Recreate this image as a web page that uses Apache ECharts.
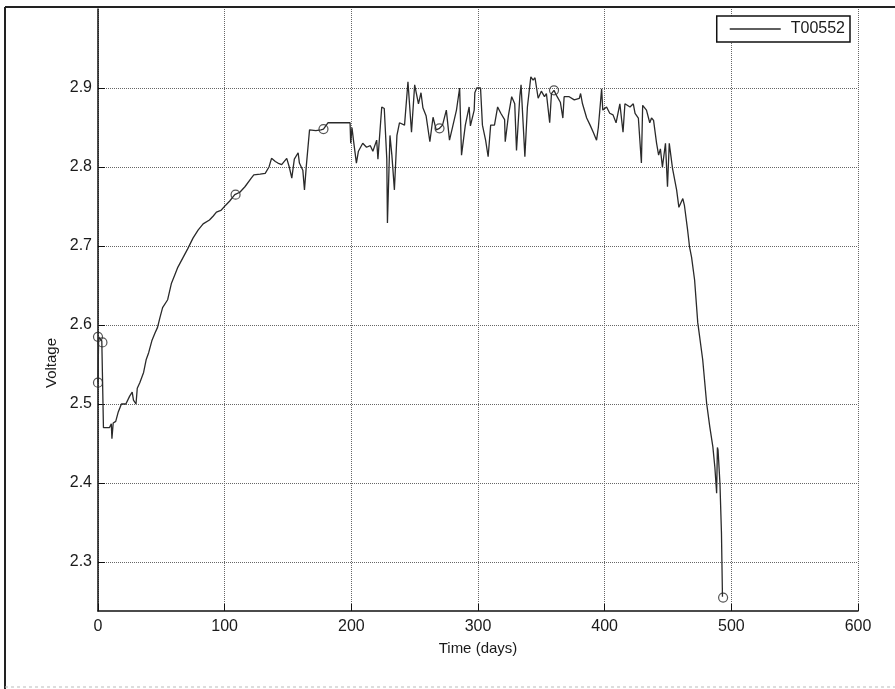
<!DOCTYPE html>
<html>
<head>
<meta charset="utf-8">
<script src="https://cdn.jsdelivr.net/npm/echarts@6/dist/echarts.min.js"></script>
<style>
  html, body { margin: 0; padding: 0; background: #fff; }
  #chart { width: 895px; height: 689px; }
</style>
</head>
<body>
<div id="chart"></div>
<script>
// T00552 voltage trace: [day, volt]
const seriesName = 'T00552';
const voltage = [
  [0, 2.527], [0.5, 2.585], [3, 2.58], [4, 2.578], [4.3, 2.47], [9, 2.47], [10.5, 2.475],
  [11, 2.456], [12, 2.476], [14, 2.478], [16, 2.49], [18.5, 2.5], [22, 2.5], [25, 2.51],
  [27, 2.515], [28, 2.505], [30, 2.5], [31, 2.52], [33, 2.527], [36, 2.54], [38, 2.556],
  [40, 2.565], [42.5, 2.58], [45, 2.59], [47, 2.597], [49, 2.61], [51, 2.622], [55, 2.632],
  [58, 2.653], [61, 2.665], [63, 2.673], [67, 2.685], [71, 2.697], [75, 2.71], [79, 2.72],
  [83, 2.728], [88, 2.733], [91, 2.738], [93.5, 2.743], [97, 2.745], [101, 2.752], [104, 2.757],
  [108, 2.765], [112, 2.768], [116, 2.775], [121, 2.786], [123, 2.79], [128, 2.791], [132, 2.792],
  [135, 2.8], [137, 2.811], [140, 2.807], [142, 2.805], [145, 2.803], [149, 2.811], [151, 2.8],
  [153, 2.786], [155, 2.81], [158, 2.818], [159, 2.805], [161.7, 2.796], [163, 2.771],
  [164.5, 2.802], [166, 2.8], [167, 2.847], [172, 2.846], [176, 2.847], [178, 2.848],
  [181.5, 2.856], [190, 2.856], [199, 2.856], [199.5, 2.83], [200.5, 2.85], [202, 2.83],
  [204, 2.805], [205.6, 2.82], [209, 2.83], [212, 2.825], [215, 2.827], [217, 2.82], [220, 2.834],
  [221, 2.81], [224, 2.876], [226, 2.874], [228, 2.81], [228.5, 2.729], [230.5, 2.84], [232, 2.815],
  [234, 2.771], [236, 2.84], [238, 2.856], [242, 2.853], [244.7, 2.908], [247.5, 2.844],
  [250, 2.904], [253, 2.88], [255, 2.894], [256.5, 2.875], [259, 2.865], [262, 2.832],
  [264.5, 2.863], [267, 2.847], [269.6, 2.849], [272, 2.853], [275, 2.872], [277.5, 2.834],
  [280, 2.851], [283, 2.872], [285.5, 2.9], [287, 2.815], [290, 2.853], [293, 2.876], [294, 2.852],
  [297, 2.872], [297.5, 2.894], [299, 2.9], [302, 2.9], [303.5, 2.853], [306, 2.834], [308, 2.813],
  [310, 2.853], [313, 2.853], [315.5, 2.876], [318, 2.868], [321, 2.86], [321.5, 2.832],
  [324, 2.865], [326.6, 2.889], [329, 2.88], [330.4, 2.821], [333, 2.889], [334, 2.904],
  [336, 2.844], [337, 2.813], [339, 2.876], [341.7, 2.914], [343.5, 2.91], [345, 2.913],
  [347.5, 2.887], [350, 2.896], [352.5, 2.889], [354, 2.893], [356.6, 2.856], [358, 2.893],
  [360, 2.897], [362.5, 2.889], [365, 2.882], [367, 2.862], [368, 2.889], [372, 2.889],
  [376, 2.885], [380, 2.887], [381, 2.893], [382.5, 2.88], [385.8, 2.862], [388.5, 2.853],
  [391, 2.844], [393.6, 2.834], [395, 2.85], [397.6, 2.899], [398.5, 2.872], [401.5, 2.876],
  [404, 2.868], [406.6, 2.866], [409, 2.856], [412, 2.88], [414.5, 2.844], [416, 2.88],
  [420, 2.876], [422.6, 2.88], [424, 2.868], [426.6, 2.862], [429, 2.805], [430, 2.878],
  [433, 2.872], [435.6, 2.856], [437, 2.862], [438.6, 2.859], [441, 2.83], [442.6, 2.815],
  [444, 2.823], [445.6, 2.8], [448, 2.83], [449.6, 2.775], [451, 2.83], [453.6, 2.798],
  [456.8, 2.771], [458.6, 2.749], [461.7, 2.76], [463, 2.751], [465.5, 2.72], [467, 2.699],
  [468.6, 2.686], [471, 2.657], [473.5, 2.603], [477.4, 2.556], [480.5, 2.501], [483, 2.471],
  [485.4, 2.446], [487, 2.42], [488.4, 2.387], [489, 2.445], [489.5, 2.442], [491, 2.4],
  [492.2, 2.337], [493, 2.256]
];
// open circle markers
const markers = [
  [0, 2.585], [0, 2.527], [3.5, 2.578], [108.6, 2.765], [178, 2.848],
  [269.6, 2.849], [360, 2.897], [493.5, 2.255]
];
const yTicks = [2.3, 2.4, 2.5, 2.6, 2.7, 2.8, 2.9];

const font = "'Liberation Sans', Arial, sans-serif";
const ink = '#1a1a1a';

const chart = echarts.init(document.getElementById('chart'), null, { renderer: 'canvas' });
chart.setOption({
  backgroundColor: '#fff',
  animation: false,
  grid: { left: 98, right: 37, top: 9, bottom: 78, containLabel: false },
  legend: {
    data: [seriesName],
    right: 45,
    top: 16,
    padding: [5, 5, 5, 13],
    backgroundColor: '#fff',
    borderColor: '#111',
    borderWidth: 1.5,
    borderRadius: 0,
    icon: 'rect',
    itemWidth: 51,
    itemHeight: 1.5,
    textStyle: { color: ink, fontSize: 16, fontFamily: font, padding: [0, 0, 0, 5] }
  },
  xAxis: {
    type: 'value',
    min: 0,
    max: 600,
    interval: 100,
    name: 'Time (days)',
    nameLocation: 'middle',
    nameGap: 30,
    nameTextStyle: { color: ink, fontSize: 15, fontFamily: font },
    axisLine: { onZero: false, lineStyle: { color: '#111', width: 1.5 } },
    axisTick: { inside: true, length: 7, lineStyle: { color: '#111' } },
    axisLabel: { color: ink, fontSize: 16, fontFamily: font, margin: 8 },
    splitLine: { show: true, lineStyle: { type: 'dotted', color: '#666', width: 1 } }
  },
  yAxis: {
    type: 'value',
    min: 2.238,
    max: 3.0,
    axisLine: { show: true, lineStyle: { color: '#111', width: 1.5 } },
    axisTick: { show: true, inside: true, length: 7, customValues: yTicks, lineStyle: { color: '#111' } },
    axisLabel: {
      color: ink, fontSize: 16, fontFamily: font, margin: 6,
      customValues: yTicks,
      formatter: (v) => v.toFixed(1)
    },
    splitLine: { show: true, lineStyle: { type: 'dotted', color: '#666', width: 1 } }
  },
  graphic: [
    {
      type: 'text',
      left: 44,
      top: 338,
      rotation: Math.PI / 2,
      style: { text: 'Voltage', fill: ink, font: '15px ' + font }
    },
    { type: 'line', shape: { x1: 5, y1: 7, x2: 895, y2: 7 }, style: { stroke: '#222', lineWidth: 2 } },
    { type: 'line', shape: { x1: 5, y1: 7, x2: 5, y2: 689 }, style: { stroke: '#222', lineWidth: 2 } },
    { type: 'line', shape: { x1: 5, y1: 687, x2: 895, y2: 687 }, style: { stroke: '#bbb', lineWidth: 1, lineDash: [3, 3] } }
  ],
  series: [
    {
      name: seriesName,
      type: 'line',
      data: voltage,
      showSymbol: false,
      symbol: 'none',
      lineStyle: { color: '#2a2a2a', width: 1.3 },
      itemStyle: { color: '#2a2a2a' }
    },
    {
      name: 'marks',
      type: 'scatter',
      data: markers,
      symbol: 'circle',
      symbolSize: 9,
      itemStyle: { color: 'rgba(0,0,0,0)', borderColor: '#2a2a2a', borderWidth: 1.2 }
    }
  ]
});
</script>
</body>
</html>
